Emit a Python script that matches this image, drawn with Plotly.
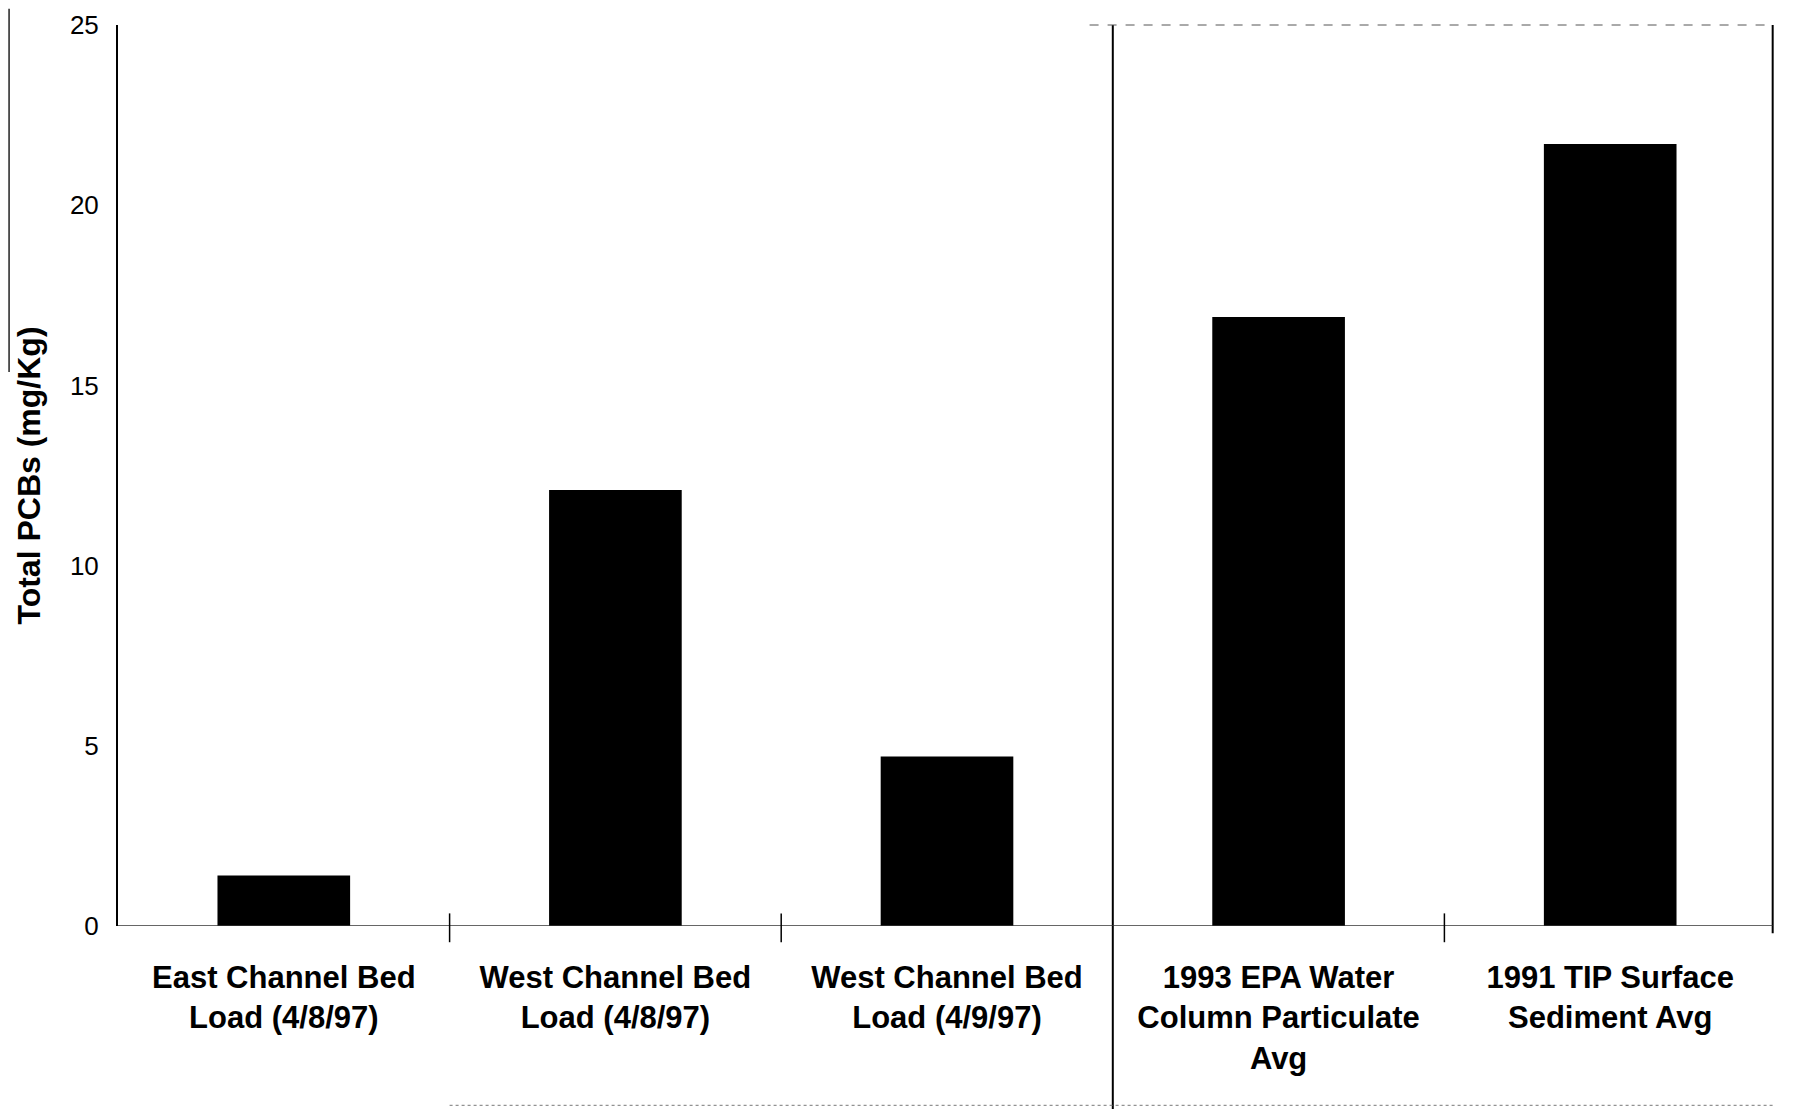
import plotly.graph_objects as go

categories = [
    "East Channel Bed<br>Load (4/8/97)",
    "West Channel Bed<br>Load (4/8/97)",
    "West Channel Bed<br>Load (4/9/97)",
    "1993 EPA Water<br>Column Particulate<br>Avg",
    "1991 TIP Surface<br>Sediment Avg",
]
values = [1.4, 12.1, 4.7, 16.9, 21.7]
y_ticks = [0, 5, 10, 15, 20, 25]
y_title = "Total PCBs (mg/Kg)"

FONT = "Liberation Sans, Arial, Helvetica, sans-serif"

x_pos = list(range(len(categories)))

fig = go.Figure()
fig.add_trace(go.Bar(
    x=x_pos, y=values, width=0.40,
    marker=dict(color="black", line=dict(width=0)),
    showlegend=False, hoverinfo="y",
))

shapes = []
# divider between the two groups
shapes.append(dict(type="line", xref="x", yref="paper", x0=2.5, x1=2.5, y0=-0.203, y1=1.0,
                   line=dict(color="black", width=2)))
# right border of right panel
shapes.append(dict(type="line", xref="x", yref="paper", x0=4.49, x1=4.49, y0=-0.008, y1=1.0,
                   line=dict(color="black", width=2)))
# top border of right panel (faint dashed)
shapes.append(dict(type="line", xref="x", yref="paper", x0=2.43, x1=4.49, y0=1.0, y1=1.0,
                   line=dict(color="#555", width=1, dash="dash")))
# bottom faint line
shapes.append(dict(type="line", xref="x", yref="paper", x0=0.5, x1=4.49, y0=-0.199, y1=-0.199,
                   line=dict(color="#777", width=1, dash="dot")))
# baseline
shapes.append(dict(type="line", xref="x", yref="y", x0=-0.5, x1=4.49, y0=0, y1=0,
                   line=dict(color="#333", width=1.5)))
# cross ticks at category boundaries
for b in [0.5, 1.5, 3.5]:
    shapes.append(dict(type="line", xref="x", yref="paper", x0=b, x1=b, y0=-0.018, y1=0.014,
                       line=dict(color="black", width=1.5)))
# scan edge at far left
shapes.append(dict(type="line", xref="paper", yref="paper", x0=-0.0657, x1=-0.0657,
                   y0=0.615, y1=1.018, line=dict(color="#222", width=1.5)))

fig.update_layout(
    width=1788, height=1103,
    margin=dict(l=110, r=20, t=17, b=185),
    paper_bgcolor="white", plot_bgcolor="white",
    font=dict(family=FONT, color="black"),
    bargap=0.6,
    shapes=shapes,
    xaxis=dict(
        range=[-0.5, 4.5], tickmode="array", tickvals=x_pos, ticktext=categories,
        showgrid=False, zeroline=False, showline=False, ticks="",
        tickfont=dict(family=FONT, size=31, color="black", weight="bold"),
        ticklabelstandoff=30, fixedrange=True, automargin=False,
    ),
    yaxis=dict(
        range=[0, 25], tickmode="array", tickvals=y_ticks,
        showgrid=False, zeroline=False, showline=True, linecolor="black", linewidth=2,
        ticks="", tickfont=dict(family=FONT, size=26, color="black"),
        ticklabelstandoff=12,
        title=dict(text=y_title, font=dict(family=FONT, size=32, color="black", weight="bold"),
                   standoff=20),
        fixedrange=True, automargin=False,
    ),
)

fig.write_html("out.html")
